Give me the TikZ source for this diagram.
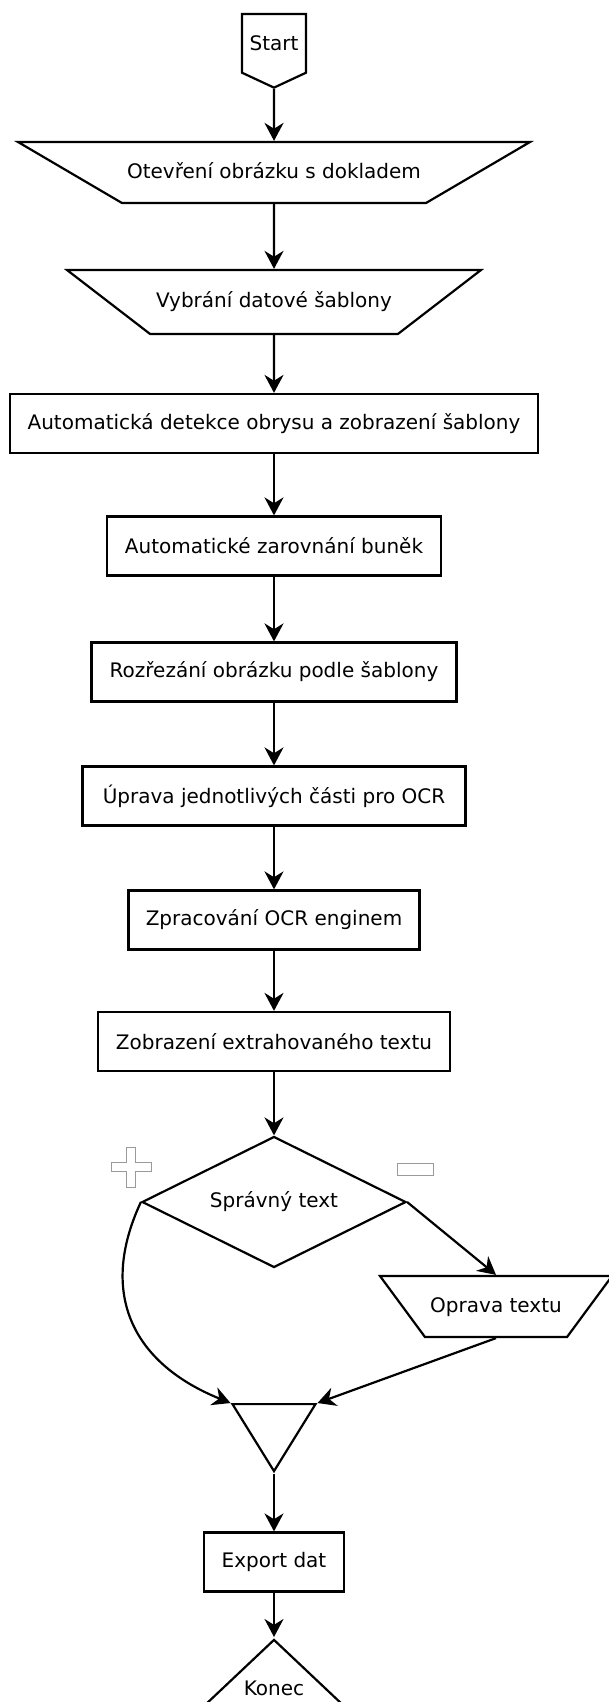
\documentclass[tikz,border=0pt]{standalone}
\usepackage{fontspec}
\setmainfont{DejaVu Sans}
\usepackage{tikz}
\usetikzlibrary{arrows.meta,shapes.geometric,shapes.symbols}
\definecolor{SignGray}{HTML}{9A9A9A}

\begin{document}
\begin{tikzpicture}[x=1pt, y=-1pt, >={Stealth[length=18pt,width=19pt]},
    every node/.style={font=\fontsize{20}{24}\selectfont, line width=2.2pt, inner sep=0pt},
    flow/.style={->, line width=2.2pt},
    process/.style={draw, rectangle, minimum height=59pt},
    inout/.style={draw, trapezium, trapezium stretches body, shape border rotate=180,
        text height=15pt, text depth=4pt},
    sign/.style={draw=SignGray, fill=white, line width=1pt}]
    \useasboundingbox (0,0) rectangle (608,1702);

    % Start and the two input steps
    \node[draw, signal, signal to=south, signal from=nowhere, signal pointer angle=130,
        minimum width=64pt, minimum height=70pt, anchor=north] (start) at (274,13) {Start};
    \node[inout, minimum width=512pt, minimum height=61pt, inner ysep=21pt,
        trapezium left angle=30.4, trapezium right angle=30.4] (open) at (274,172.5) {Otevření obrázku s dokladem};
    \node[inout, minimum width=414pt, minimum height=64pt, inner ysep=22.5pt,
        trapezium left angle=37.6, trapezium right angle=37.6] (choose) at (274,302) {Vybrání datové šablony};

    % Processing steps
    \node[process, minimum width=528pt] (detect) at (274,423.5) {Automatická detekce obrysu a zobrazení šablony};
    \node[process, minimum width=334pt] (align) at (274,546) {Automatické zarovnání buněk};
    \node[process, minimum width=365pt] (cut) at (274,672) {Rozřezání obrázku podle šablony};
    \node[process, minimum width=383pt] (prep) at (274,796) {Úprava jednotlivých části pro OCR};
    \node[process, minimum width=291pt] (ocr) at (274,920) {Zpracování OCR enginem};
    \node[process, minimum width=352pt] (show) at (274,1041.5) {Zobrazení extrahovaného textu};

    % Decision
    \node[draw, diamond, aspect=2, minimum width=264pt, minimum height=131pt] (dec) at (274,1202) {Správný text};
    \node[inout, minimum width=232pt, minimum height=61pt, inner ysep=21pt,
        trapezium left angle=53.6, trapezium right angle=53.6] (fix) at (496,1306.5) {Oprava textu};

    % plus / minus marks
    \draw[sign] (126.5,1147) -- (135.5,1147) -- (135.5,1162.5) -- (151,1162.5) -- (151,1171.5)
        -- (135.5,1171.5) -- (135.5,1187) -- (126.5,1187) -- (126.5,1171.5) -- (111,1171.5)
        -- (111,1162.5) -- (126.5,1162.5) -- cycle;
    \draw[sign] (397,1163) rectangle (433,1175);

    % Merge, export, end
    \node[draw, isosceles triangle, isosceles triangle stretches, shape border rotate=-90,
        minimum width=83pt, minimum height=67pt, anchor=apex] (merge) at (274,1474) {};
    \node[process, minimum width=140pt] (export) at (274,1562) {Export dat};
    \node[draw, isosceles triangle, isosceles triangle stretches, shape border rotate=90,
        minimum width=144pt, minimum height=68pt, anchor=apex] (end) at (274,1637) {};
    \node[anchor=base] (endtext) at (274,1695) {Konec};

    % Connectors
    \foreach \a/\b in {start/open, open/choose, choose/detect, detect/align, align/cut,
        cut/prep, prep/ocr, ocr/show, show/dec, export/end}
        \draw[flow] (\a.south) -- (\b.north);
    \draw[flow] (merge.apex) -- (export.north);
    \draw[flow] (dec.east) -- (fix.north);
    \draw[flow] (dec.west) to[out=-115, in=158, looseness=1.2] (merge.right corner);
    \draw[flow] (fix.south) -- (merge.left corner);

\end{tikzpicture}
\end{document}
